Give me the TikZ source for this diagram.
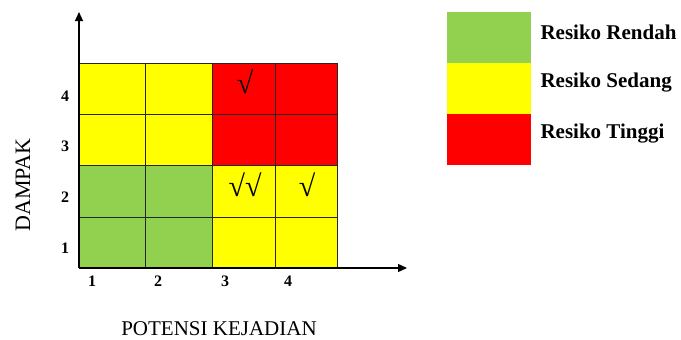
\documentclass[tikz,border=0pt]{standalone}
\usepackage{fontspec}
\setmainfont{Liberation Serif}
\usetikzlibrary{arrows.meta}
\definecolor{rgreen}{RGB}{146,208,80}
\definecolor{ryellow}{RGB}{255,255,0}
\definecolor{rred}{RGB}{255,0,0}
\begin{document}
\begin{tikzpicture}[x=1pt,y=-1pt,
  gridline/.style={draw=black!85,line width=0.8pt},
  axis/.style={draw=black,line width=1.2pt,-{Triangle[length=9pt,width=8pt]}},
  num/.style={font=\fontsize{16}{18}\selectfont\bfseries},
  lbl/.style={font=\fontsize{21}{24}\selectfont},
  chk/.style={font=\fontsize{30}{32}\selectfont,inner sep=0pt},
  leg/.style={font=\fontsize{21}{24}\selectfont\bfseries,anchor=west}]
\useasboundingbox (0,0) rectangle (681,340);
% cells
\fill[ryellow] (79,63) rectangle (212,165);
\fill[rred] (212,63) rectangle (337,165);
\fill[rgreen] (79,165) rectangle (212,268);
\fill[ryellow] (212,165) rectangle (337,268);
% grid
\draw[gridline] (79,63) rectangle (337,268);
\foreach \x in {145,212,275} \draw[gridline] (\x,63) -- (\x,268);
\foreach \y in {114,165,217} \draw[gridline] (79,\y) -- (337,\y);
% axes
\coordinate (O) at (79,268);
\coordinate (ytip) at (79,12);
\coordinate (xtip) at (407,268);
\draw[axis] (O) -- (ytip);
\draw[axis] (O) -- (xtip);
% ticks labels
\node[num] (y4) at (65,96) {4};
\node[num] (y3) at (65,146) {3};
\node[num] (y2) at (65,197) {2};
\node[num] (y1) at (65,248) {1};
\node[num] (x1) at (92,281) {1};
\node[num] (x2) at (158,281) {2};
\node[num] (x3) at (225,281) {3};
\node[num] (x4) at (288,281) {4};
% axis titles
\node[lbl,rotate=90,font=\fontsize{22}{24}\selectfont] (ylab) at (23,185) {DAMPAK};
\node[lbl] (xlab) at (219,329) {POTENSI KEJADIAN};
% check marks
\node[chk] (c1) at (245,82) {√};
\node[chk] (c2) at (245,185) {√√};
\node[chk] (c3) at (307,185) {√};
% legend
\fill[rgreen] (447,12) rectangle (531,63);
\fill[ryellow] (447,63) rectangle (531,114);
\fill[rred] (447,114) rectangle (531,165);
\node[leg] (l1) at (537,32) {Resiko Rendah};
\node[leg] (l2) at (537,83) {Resiko Sedang};
\node[leg] (l3) at (537,134) {Resiko Tinggi};
\end{tikzpicture}
\end{document}
